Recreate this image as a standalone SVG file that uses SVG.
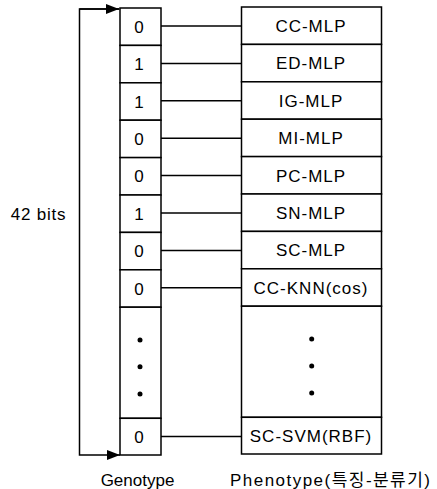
<svg xmlns="http://www.w3.org/2000/svg" width="437" height="489" viewBox="0 0 437 489">
<defs>
<style>
.box{fill:#fff;stroke:#000;stroke-width:1.5}
.ln{fill:none;stroke:#000;stroke-width:1.5}
.t{font-family:"Liberation Sans",Arial,sans-serif;font-size:17px;fill:#000;text-anchor:middle}
.lab{letter-spacing:1px}
.dot{fill:#000}
</style>
<marker id="ah" viewBox="0 0 13 10" refX="13" refY="5" markerWidth="13" markerHeight="10" markerUnits="userSpaceOnUse" orient="auto">
<path d="M0,0 L13,5 L0,10 Z" fill="#000"/>
</marker>
</defs>
<rect width="437" height="489" fill="#fff"/>

<g id="connectors">
<path class="ln" d="M119.5,9 L79.5,9 L79.5,455 L120,455" marker-end="url(#ah)"/>
<path class="ln" d="M79.5,9 L119,9" marker-end="url(#ah)"/>
<line class="ln" x1="161" y1="26" x2="241.5" y2="26"/>
<line class="ln" x1="161" y1="63.4" x2="241.5" y2="63.4"/>
<line class="ln" x1="161" y1="100.8" x2="241.5" y2="100.8"/>
<line class="ln" x1="161" y1="138.2" x2="241.5" y2="138.2"/>
<line class="ln" x1="161" y1="175.6" x2="241.5" y2="175.6"/>
<line class="ln" x1="161" y1="213" x2="241.5" y2="213"/>
<line class="ln" x1="161" y1="250.4" x2="241.5" y2="250.4"/>
<line class="ln" x1="161" y1="287.8" x2="241.5" y2="287.8"/>
<line class="ln" x1="161" y1="436.6" x2="241.5" y2="436.6"/>
</g>

<g id="genotype">
<g id="g0"><rect class="box" x="120" y="8" width="41" height="37.4"/><text class="t" x="139" y="32.8">0</text></g>
<g id="g1"><rect class="box" x="120" y="45.4" width="41" height="37.4"/><text class="t" x="139" y="70.2">1</text></g>
<g id="g2"><rect class="box" x="120" y="82.8" width="41" height="37.4"/><text class="t" x="139" y="107.6">1</text></g>
<g id="g3"><rect class="box" x="120" y="120.2" width="41" height="37.4"/><text class="t" x="139" y="145">0</text></g>
<g id="g4"><rect class="box" x="120" y="157.6" width="41" height="37.4"/><text class="t" x="139" y="182.4">0</text></g>
<g id="g5"><rect class="box" x="120" y="195" width="41" height="37.4"/><text class="t" x="139" y="219.8">1</text></g>
<g id="g6"><rect class="box" x="120" y="232.4" width="41" height="37.4"/><text class="t" x="139" y="257.2">0</text></g>
<g id="g7"><rect class="box" x="120" y="269.8" width="41" height="37.4"/><text class="t" x="139" y="294.6">0</text></g>
<g id="gdots"><rect class="box" x="120" y="307.2" width="41" height="111.1"/>
<circle class="dot" cx="140" cy="340" r="2.5"/><circle class="dot" cx="140" cy="366.7" r="2.5"/><circle class="dot" cx="140" cy="394" r="2.5"/></g>
<g id="g41"><rect class="box" x="120" y="418.3" width="41" height="36.7"/><text class="t" x="139" y="443">0</text></g>
</g>

<g id="phenotype">
<g id="p0"><rect class="box" x="241.5" y="7" width="140" height="37.4"/><text class="t lab" x="311" y="32">CC-MLP</text></g>
<g id="p1"><rect class="box" x="241.5" y="44.4" width="140" height="37.4"/><text class="t lab" x="311" y="69.4">ED-MLP</text></g>
<g id="p2"><rect class="box" x="241.5" y="81.8" width="140" height="37.4"/><text class="t lab" x="311" y="106.8">IG-MLP</text></g>
<g id="p3"><rect class="box" x="241.5" y="119.2" width="140" height="37.4"/><text class="t lab" x="311" y="144.2">MI-MLP</text></g>
<g id="p4"><rect class="box" x="241.5" y="156.6" width="140" height="37.4"/><text class="t lab" x="311" y="181.6">PC-MLP</text></g>
<g id="p5"><rect class="box" x="241.5" y="194" width="140" height="37.4"/><text class="t lab" x="311" y="219">SN-MLP</text></g>
<g id="p6"><rect class="box" x="241.5" y="231.4" width="140" height="37.4"/><text class="t lab" x="311" y="256.4">SC-MLP</text></g>
<g id="p7"><rect class="box" x="241.5" y="268.8" width="140" height="37.4"/><text class="t lab" x="311" y="293.8">CC-KNN(cos)</text></g>
<g id="pdots"><rect class="box" x="241.5" y="306.2" width="140" height="111.1"/>
<circle class="dot" cx="311.7" cy="339" r="2.5"/><circle class="dot" cx="311.7" cy="366" r="2.5"/><circle class="dot" cx="311.7" cy="393" r="2.5"/></g>
<g id="p41"><rect class="box" x="241.5" y="417.3" width="140" height="36.7"/><text class="t lab" x="311" y="442">SC-SVM(RBF)</text></g>
</g>

<g id="labels">
<text class="t" x="38.5" y="220" style="letter-spacing:0.8px">42 bits</text>
<text class="t" x="137.5" y="486">Genotype</text>
<text class="t" x="330" y="486" textLength="200" lengthAdjust="spacing" style="font-family:'Liberation Sans','Noto Sans CJK KR',sans-serif">Phenotype(특징-분류기)</text>
</g>
</svg>
